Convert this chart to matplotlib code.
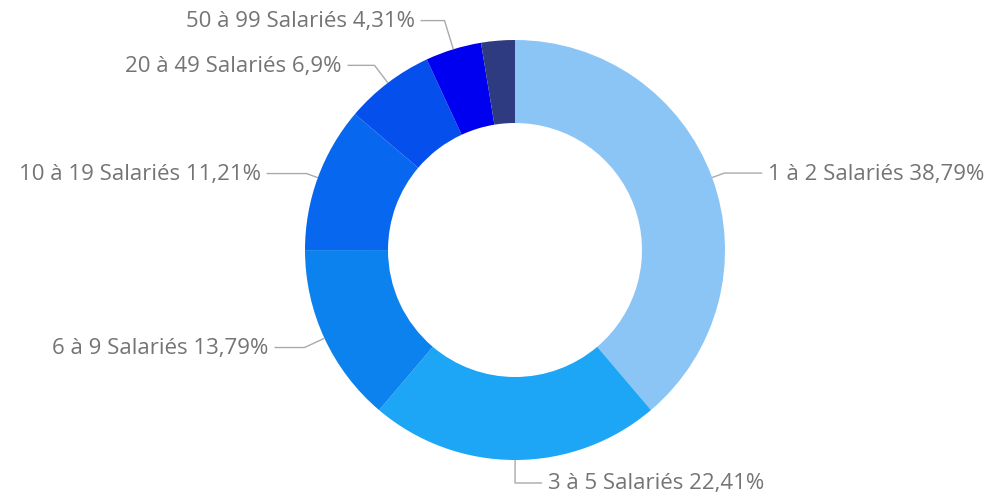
import numpy as np
import matplotlib.pyplot as plt

# --- data ---
categories = ["1 à 2 Salariés", "3 à 5 Salariés", "6 à 9 Salariés",
              "10 à 19 Salariés", "20 à 49 Salariés", "50 à 99 Salariés",
              "100 Salariés et plus"]
shares = [38.79, 22.41, 13.79, 11.21, 6.90, 4.31, 2.59]
pct_labels = ["38,79%", "22,41%", "13,79%", "11,21%", "6,9%", "4,31%", None]
colors = ["#8AC5F6", "#1DA5F6", "#0B82EE", "#0767EE", "#0550EC", "#0000F0", "#2E3B80"]

# leader line layout (pixels): radial extension beyond the ring, horizontal run
ext = [13, 23, 22, 12, 22, 30]
hrun = [38, 27, 30, 40, 27, 24]

W, H = 990, 500
cx, cy = 515, 250
r_out, r_in = 210, 127

fig = plt.figure(figsize=(W / 100, H / 100), dpi=100)
ax = fig.add_axes([0, 0, 1, 1])

wedges, _ = ax.pie(shares, colors=colors, startangle=90, counterclock=False,
                   radius=r_out, center=(cx, cy),
                   wedgeprops=dict(width=r_out - r_in, linewidth=0))

for i, w in enumerate(wedges):
    if pct_labels[i] is None:
        continue
    ang = np.deg2rad((w.theta1 + w.theta2) / 2)
    dx, dy = np.cos(ang), np.sin(ang)
    x0, y0 = cx + r_out * dx, cy + r_out * dy
    re = r_out + ext[i]
    x1, y1 = cx + re * dx, cy + re * dy
    side = 1 if dx > 0.01 or (abs(dx) <= 0.01 and dy < 0) else -1
    x2 = x1 + side * hrun[i]
    ax.plot([x0, x1, x2], [y0, y1, y1], color="#AAAAAA", lw=1, solid_capstyle="butt")
    ax.text(x2 + side * 6, y1 - 1, f"{categories[i]} {pct_labels[i]}",
            ha="left" if side > 0 else "right", va="center",
            fontsize=16, color="#747474", family=["Open Sans", "DejaVu Sans"])

ax.set_xlim(0, W)
ax.set_ylim(0, H)
ax.set_aspect("equal")
ax.axis("off")

fig.savefig("out.png", dpi=100, facecolor="white")
